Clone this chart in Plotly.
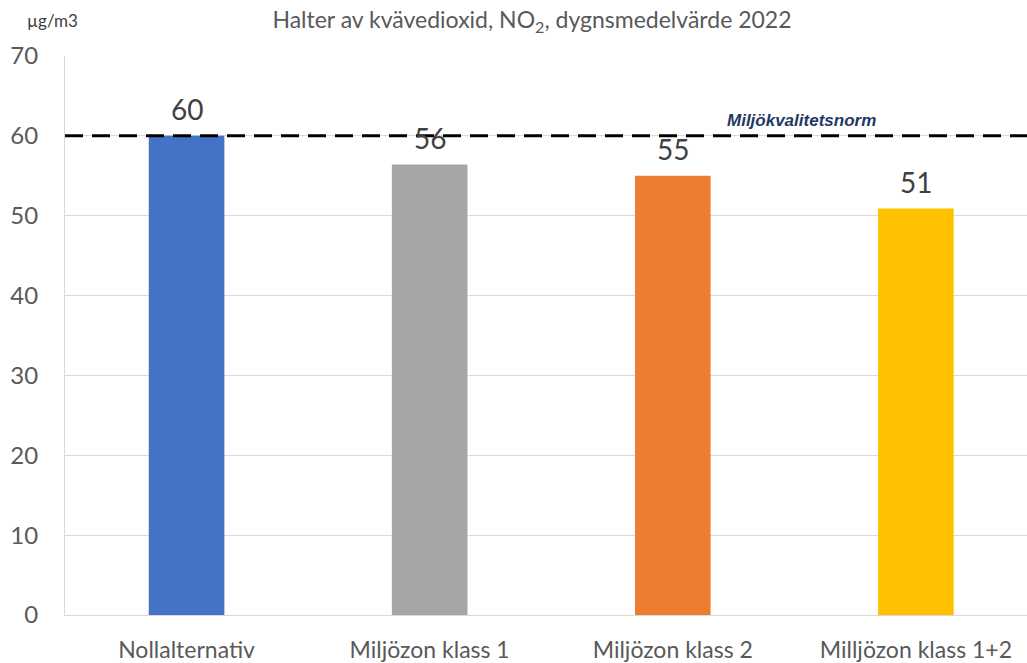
import plotly.graph_objects as go

# NO2 daily mean concentrations per scenario, 2022 (µg/m3)
categories = ["Nollalternativ", "Miljözon klass 1", "Miljözon klass 2", "Milljözon klass 1+2"]
values = [60.0, 56.4, 55.0, 50.9]
bar_colors = ["#4472C4", "#A5A5A5", "#ED7D31", "#FFC000"]
y_ticks = [0, 10, 20, 30, 40, 50, 60, 70]
norm_value = 60
norm_label = "Miljökvalitetsnorm"

FONT = "Lato, 'Open Sans', sans-serif"

fig = go.Figure()
fig.add_trace(go.Bar(
    x=list(range(len(categories))),
    y=values,
    marker=dict(color=bar_colors, line=dict(width=0)),
    width=0.311,
    hoverinfo="y",
))

# value labels above each bar
annotations = []
for i, v in enumerate(values):
    annotations.append(dict(
        x=i, y=v, xref="x", yref="y", text=f"{v:.0f}",
        showarrow=False, xanchor="center", yanchor="bottom", yshift=8,
        font=dict(family=FONT, size=28, color="#404040"),
    ))

# environmental quality standard label
annotations.append(dict(
    x=0.766, xref="paper", xanchor="center", y=norm_value, yref="y",
    text=f"<b><i>{norm_label}</i></b>", showarrow=False,
    yanchor="bottom", yshift=4,
    font=dict(family="'Liberation Sans', Arial, sans-serif", size=17, color="#1F3864"),
))

# unit label
annotations.append(dict(
    x=-0.0416, xref="paper", xanchor="left", y=1, yref="paper",
    yanchor="middle", yshift=36, text="µg/m3", showarrow=False,
    font=dict(family=FONT, size=17, color="#404040"),
))

fig.add_shape(
    type="line", xref="paper", yref="y", x0=0, x1=1, y0=norm_value, y1=norm_value,
    line=dict(color="black", width=3, dash="18px,9px"), layer="above",
)

fig.update_layout(
    width=1027, height=663,
    margin=dict(l=65, r=0, t=56, b=48),
    paper_bgcolor="white", plot_bgcolor="white",
    showlegend=False,
    title=dict(
        text="Halter av kvävedioxid, NO<sub>2</sub>, dygnsmedelvärde 2022",
        x=532 / 1027, xanchor="center", y=1 - 20 / 663, yanchor="middle",
        yref="container",
        font=dict(family=FONT, size=23, color="#595959"),
    ),
    annotations=annotations,
    xaxis=dict(
        tickmode="array", tickvals=list(range(len(categories))), ticktext=categories,
        range=[-0.5, 3.457], showgrid=False, zeroline=False,
        showline=True, linecolor="#D9D9D9", linewidth=1,
        ticks="outside", ticklen=14, tickcolor="rgba(0,0,0,0)",
        tickfont=dict(family=FONT, size=23, color="#595959"),
        fixedrange=True,
    ),
    yaxis=dict(
        range=[0, 70], tickmode="array", tickvals=y_ticks,
        showgrid=True, gridcolor="#D9D9D9", gridwidth=1, zeroline=False,
        showline=True, linecolor="#D9D9D9", linewidth=1,
        ticks="outside", ticklen=21, tickcolor="rgba(0,0,0,0)",
        tickfont=dict(family=FONT, size=24, color="#595959"),
        fixedrange=True,
    ),
)

fig.write_html("out.html")
